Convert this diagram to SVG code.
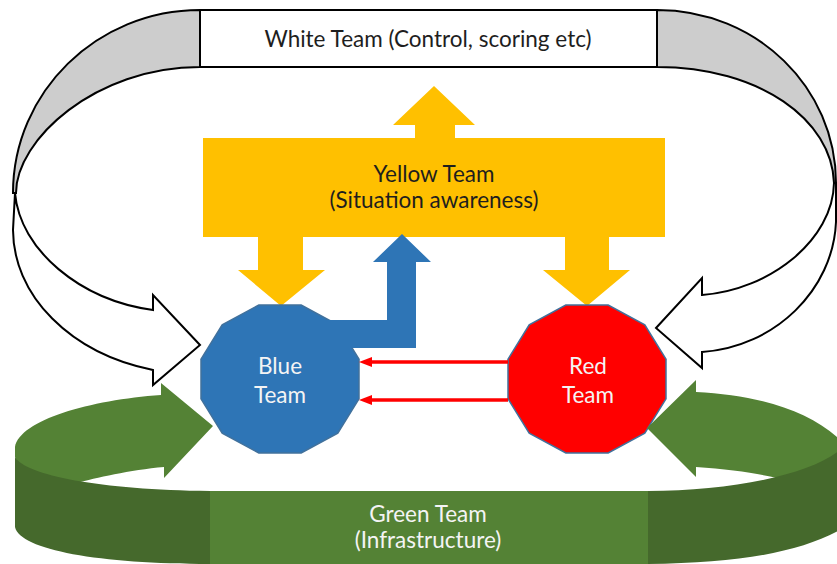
<svg xmlns="http://www.w3.org/2000/svg" width="837" height="564" viewBox="0 0 837 564">
<style>
.txt{font-family:Lato,"Open Sans","Liberation Sans",sans-serif;font-size:22.5px;text-anchor:middle}
.dark{fill:#1e1e1e}
.light{fill:#f4f4f4}
.outline{stroke:#000;stroke-width:2;stroke-linejoin:miter}
.back{fill:#cdcdcd}
.front{fill:#fff}
.gl{fill:#548235}
.gd{fill:#45692c}
.poly{stroke:#41719c;stroke-width:1.5}
.redln{stroke:#ff0000;stroke-width:3.5;fill:none}
</style>
<defs>
<marker id="ah" viewBox="0 0 13 10" refX="0.5" refY="5" markerWidth="13" markerHeight="10" markerUnits="userSpaceOnUse" orient="auto">
<path d="M0,0 L13,5 L0,10 Z" fill="#ff0000"/>
</marker>
</defs>
<rect width="837" height="564" fill="#fff"/>
<g id="white-team">
<rect x="200" y="10" width="457" height="57" fill="#fff" class="outline"/>
<text class="txt dark" x="428" y="47">White Team (Control, scoring etc)</text>
</g>
<g id="yellow-team">
<path fill="#ffc000" d="M203,138 L415,138 L415,125 L393,125 L434,86 L475,125 L455,125 L455,138 L665,138 L665,237 L609,237 L609,270 L630,270 L587,306 L543,270 L565,270 L565,237 L303,237 L303,270 L325,270 L281,306 L238,270 L258,270 L258,237 L203,237 Z"/>
<text class="txt dark" x="434" y="182">Yellow Team</text>
<text class="txt dark" x="434" y="208">(Situation awareness)</text>
</g>
<g id="blue-team">
<polygon class="poly" fill="#2e75b6" points="359,359.2 337.8,324.8 301.2,305 258.8,305 222.2,324.8 201,359.2 201,398.8 222.2,433.2 258.8,453 301.2,453 337.8,433.2 359,398.8"/>
<text class="txt light" x="280" y="374">Blue</text>
<text class="txt light" x="280" y="403">Team</text>
</g>
<g id="red-team">
<polygon class="poly" fill="#ff0000" points="666,359.2 644.8,324.8 608.2,305 565.8,305 529.2,324.8 508,359.2 508,398.8 529.2,433.2 565.8,453 608.2,453 644.8,433.2 666,398.8"/>
<text class="txt light" x="588" y="374">Red</text>
<text class="txt light" x="588" y="403">Team</text>
</g>
<g id="green-team">
<rect x="210" y="491" width="438" height="73" class="gl"/>
<text class="txt light" x="428" y="522">Green Team</text>
<text class="txt light" x="428" y="548">(Infrastructure)</text>
</g>
<g id="connectors">
<path class="gl" d="M161,395 L161,383 L213,426 L164,478 L164,467 C130,470 95,478 77,483 C55,480 20,472 15,457 L15,447 C20,420 90,400 161,395 Z"/>
<path class="gd" d="M15,457 C25,475 100,490 210,491 L210,564 C100,564 20,550 15,527 Z"/>
<path class="gl" d="M696,392 L696,380 L647,428 L696,477 L696,467 C730,469 760,474 777,478 L845,470 L845,445 C815,412 760,395 696,392 Z"/>
<path class="gd" d="M648,491 C730,491 810,475 840,450 L840,530 C800,552 740,563 648,564 Z"/>
<path class="back outline" d="M200,10 C97,10 13,92 13,193 L16,193 C16,140 95,67 200,67 Z"/>
<path class="front outline" d="M15,193 C20,250 80,300 153,310 L153,295 L200,345 L153,385 L153,370 A187,145 0 0 1 13,230 Z"/>
<path class="back outline" d="M657,10 C757,10 836,88 836,183 L834,183 C832,120 760,67 657,67 Z"/>
<path class="front outline" d="M834,183 C833,240 770,290 702,295 L702,278 L656,328 L702,368 L702,352 C775,347 833,290 836,222 L836,183 Z"/>
<path fill="#2e75b6" d="M320,320 L387,320 L387,262 L373,262 L402,234 L431,262 L416,262 L416,348 L320,348 Z"/>
<line class="redln" x1="508" y1="362" x2="371.5" y2="362" marker-end="url(#ah)"/>
<line class="redln" x1="508" y1="400" x2="371.5" y2="400" marker-end="url(#ah)"/>
</g>
</svg>
